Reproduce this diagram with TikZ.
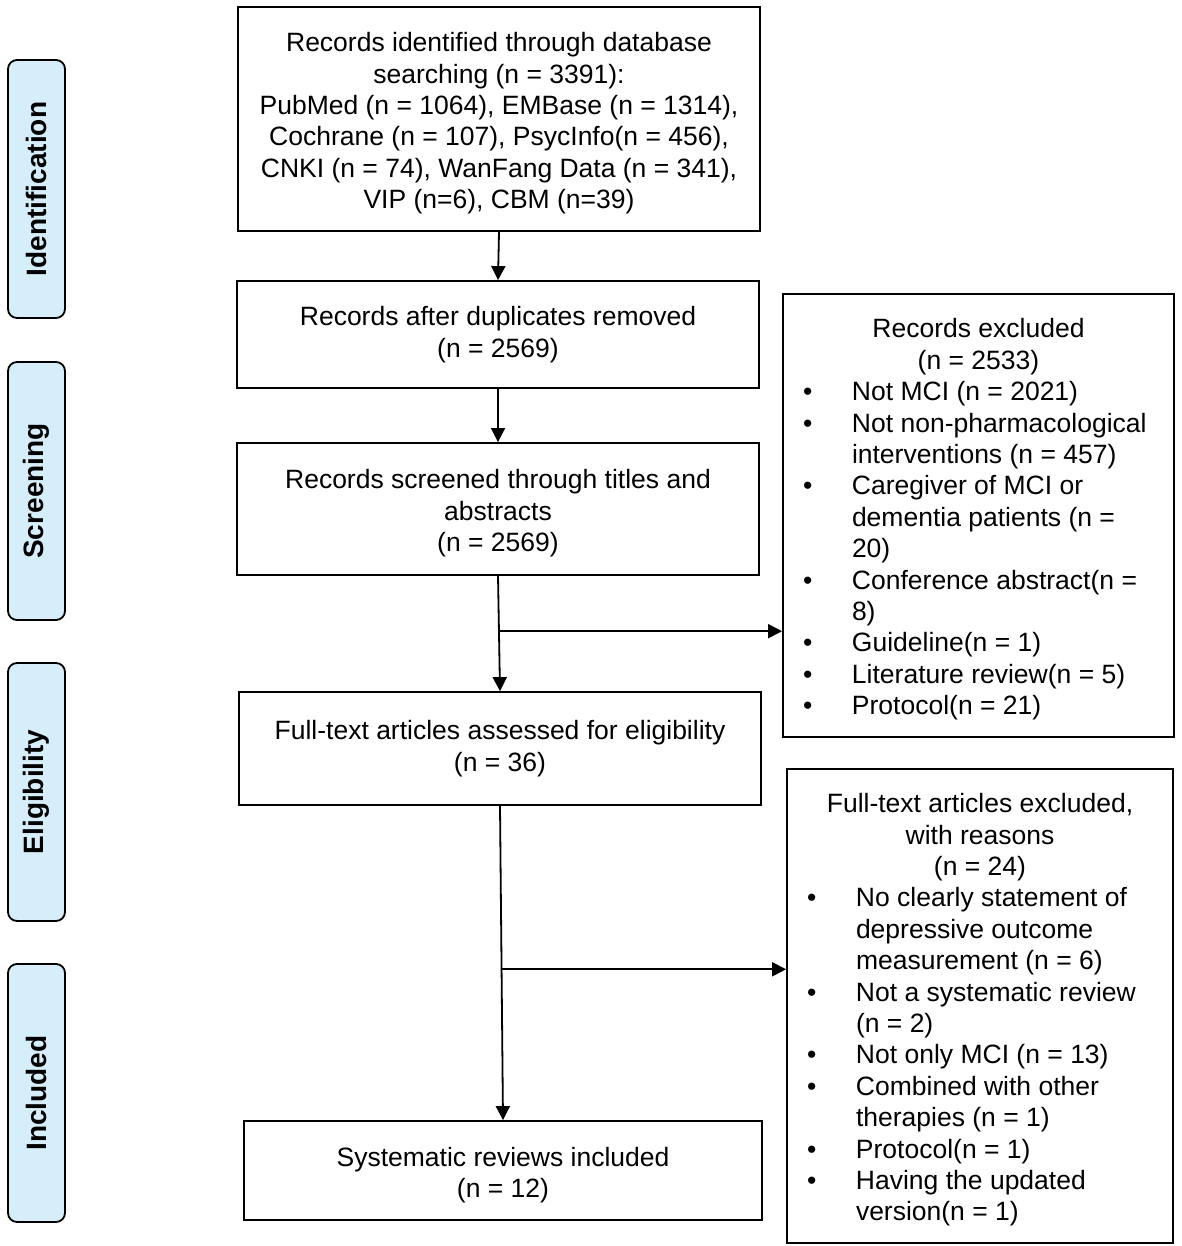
\documentclass[tikz,border=0pt]{standalone}
\usepackage{fontspec}
\setmainfont{Liberation Sans}
\usetikzlibrary{arrows.meta,calc}
\definecolor{sidefill}{RGB}{214,237,250}
\newcommand{\bul}{\makebox[69pt][l]{\hspace*{20pt}\textbullet}}
\newcommand{\ind}{\hspace*{69pt}}
\newcommand{\tp}{\rule{0pt}{28pt}}
\begin{document}
\begin{tikzpicture}[x=1pt,y=-1pt,
  box/.style={draw, line width=1.8pt, align=center, inner sep=0pt,
    font=\fontsize{26.5}{31.4}\selectfont},
  rbox/.style={draw, line width=1.8pt, inner sep=0pt,
    font=\fontsize{26.5}{31.4}\selectfont},
  side/.style={draw, line width=1.8pt, fill=sidefill, rounded corners=9pt,
    rotate=90, minimum width=258pt, minimum height=57pt, inner sep=0pt,
    font=\fontsize{28}{32}\selectfont\bfseries},
  arr/.style={line width=1.8pt, -{Triangle[length=14pt,width=14pt]}}]
\useasboundingbox[fill=white] (0,0) rectangle (1181,1246);

% side labels
\node[side] (s1) at (36.5,189) {Identification};
\node[side] (s2) at (36.5,491) {Screening};
\node[side] (s3) at (36.5,792) {Eligibility};
\node[side] (s4) at (36.5,1093) {Included};

% main boxes
\node[box, minimum width=522pt, minimum height=224pt] (b1) at (499,119)
  {\tp Records identified through database\\searching (n = 3391):\\PubMed (n = 1064), EMBase (n = 1314),\\Cochrane (n = 107), PsycInfo(n = 456),\\CNKI (n = 74), WanFang Data (n = 341),\\VIP (n=6), CBM (n=39)};
\node[box, minimum width=522pt, minimum height=107pt] (b2) at (498,334.5)
  {Records after duplicates removed\\(n = 2569)};
\node[box, minimum width=522pt, minimum height=132pt] (b3) at (498,509)
  {\tp Records screened through titles and\\abstracts\\(n = 2569)};
\node[box, minimum width=522pt, minimum height=113pt] (b4) at (500,748.5)
  {Full-text articles assessed for eligibility\\(n = 36)};
\node[box, minimum width=518pt, minimum height=99pt] (b5) at (503,1170.5)
  {\tp Systematic reviews included\\(n = 12)};

% exclusion boxes
\node[rbox, minimum width=391pt, minimum height=443pt] (r1) at (978.5,515.5)
  {\begin{minipage}{391pt}\vspace*{8pt}\centering Records excluded\\(n = 2533)\par\raggedright
  \bul Not MCI (n = 2021)\\
  \bul Not non-pharmacological\\
  \ind interventions (n = 457)\\
  \bul Caregiver of MCI or\\
  \ind dementia patients (n =\\
  \ind 20)\\
  \bul Conference abstract(n =\\
  \ind 8)\\
  \bul Guideline(n = 1)\\
  \bul Literature review(n = 5)\\
  \bul Protocol(n = 21)
  \end{minipage}};
\node[rbox, minimum width=386pt, minimum height=474pt] (r2) at (980,1006)
  {\begin{minipage}{386pt}\vspace*{8pt}\centering Full-text articles excluded,\\with reasons\\(n = 24)\par\raggedright
  \bul No clearly statement of\\
  \ind depressive outcome\\
  \ind measurement (n = 6)\\
  \bul Not a systematic review\\
  \ind (n = 2)\\
  \bul Not only MCI (n = 13)\\
  \bul Combined with other\\
  \ind therapies (n = 1)\\
  \bul Protocol(n = 1)\\
  \bul Having the updated\\
  \ind version(n = 1)
  \end{minipage}};

% connectors
\draw[arr] (b1.south) -- (b2.north);
\draw[arr] (b2.south) -- (b3.north);
\draw[arr] (b3.south) -- (b4.north);
\coordinate (j1) at ($(b3.south)!0.48!(b4.north)$);
\draw[arr] (j1) -- (j1 -| r1.west);
\draw[arr] (b4.south) -- (b5.north);
\coordinate (j2) at ($(b4.south)!0.52!(b5.north)$);
\draw[arr] (j2) -- (j2 -| r2.west);
\end{tikzpicture}
\end{document}
